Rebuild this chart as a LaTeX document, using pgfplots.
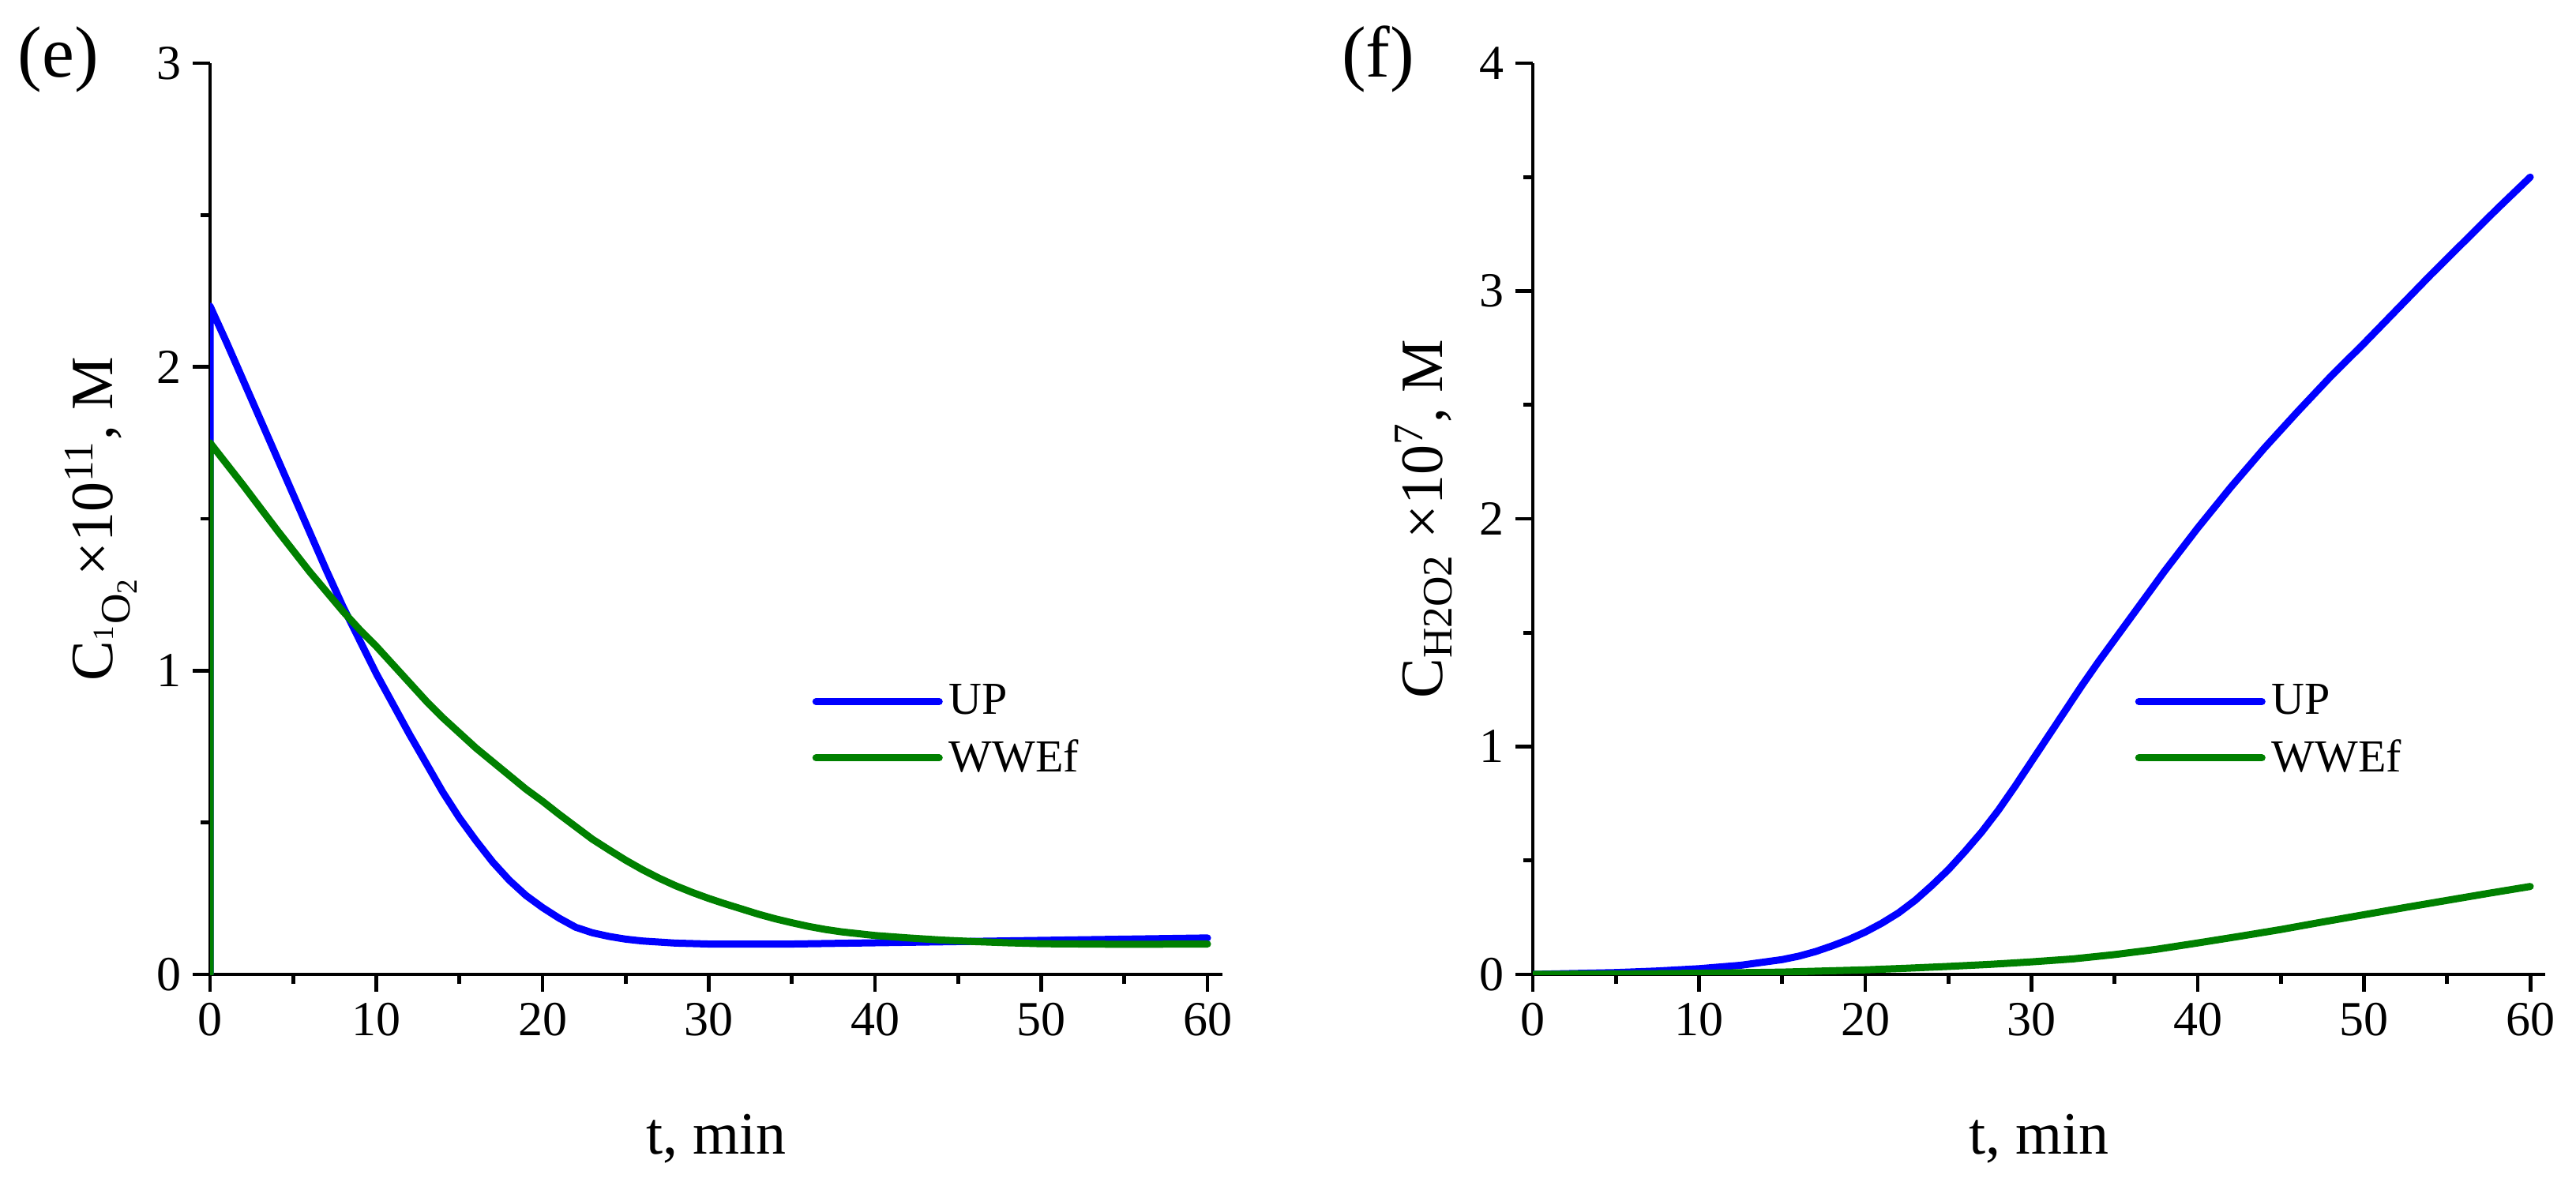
\documentclass[border=0pt]{standalone}
\usepackage{fontspec}
\setmainfont{Liberation Serif}
\usepackage{pgfplots}
\pgfplotsset{compat=1.18}

\definecolor{upblue}{RGB}{0,0,255}
\definecolor{wwgreen}{RGB}{0,128,0}

% 1 px of the reference = 0.25pt
\pgfplotsset{
  panel/.style={
    scale only axis,
    width=320.5pt, height=288.5pt,
    anchor=south west,
    xmin=0, xmax=60.9, ymin=0,
    axis x line*=bottom, axis y line*=left,
    axis line style={line width=1.1pt},
    xtick={0,10,...,60},
    minor x tick num=1, minor y tick num=1,
    tick align=outside,
    major tick length=5.5pt, minor tick length=3pt,
    tick style={black, line width=1.2pt},
    /pgf/number format/assume math mode=true,
    tick label style={font=\fontsize{15.5}{15.5}\selectfont},
    xlabel={t, min},
    xlabel style={font=\fontsize{19}{19}\selectfont, anchor=base,
      at={(axis description cs:0.5,0)}, yshift=-56.75pt},
    legend style={draw=none, fill=none, font=\fontsize{14.5}{14.5}\selectfont,
      anchor=north west, row sep=2.5pt},
    legend cell align=left,
    legend image code/.code={\draw[#1, line cap=round] (0pt,0pt) -- (39pt,0pt);},
  },
  curve/.style={line width=2.25pt, line join=round, line cap=round},
}

\begin{document}
\begin{tikzpicture}
\path[use as bounding box] (0pt,0pt) rectangle (815.5pt,375.25pt);

% (e)
\begin{axis}[panel, at={(66.5pt,66.75pt)},
  ymax=3, ytick={0,1,2,3},
  ylabel={C\textsubscript{\textsuperscript{1}O\textsubscript{2}}×10\textsuperscript{11}, M},
  ylabel style={font=\fontsize{19}{19}\selectfont, anchor=base,
    at={(axis description cs:-0.096,0.5)}},
  legend style={at={(axis description cs:0.585,0.333)}},
]
\addplot[curve, upblue] coordinates {
  (0,0) (0,2.2) (1,2.08) (2,1.955) (3,1.83) (4,1.705) (5,1.58) (6,1.455)
  (7,1.33) (8,1.21) (9,1.10) (10,0.99) (11,0.89) (12,0.79) (13,0.695)
  (14,0.60) (15,0.515) (16,0.44) (17,0.37) (18,0.31) (19,0.26) (20,0.22)
  (21,0.185) (22,0.155) (23,0.137) (24,0.125) (25,0.116) (26,0.11)
  (28,0.103) (30,0.1) (35,0.1) (40,0.104) (45,0.108) (50,0.112) (55,0.116) (60,0.12)
};
\addlegendentry{UP}
\addplot[curve, wwgreen] coordinates {
  (0,0) (0,1.75) (2,1.61) (4,1.465) (6,1.325) (8,1.195) (9,1.135) (10,1.08)
  (11,1.02) (12,0.96) (13,0.90) (14,0.845) (15,0.795) (16,0.745) (17,0.70)
  (18,0.655) (19,0.61) (20,0.57) (21,0.527) (22,0.486) (23,0.445) (24,0.41)
  (25,0.376) (26,0.345) (27,0.317) (28,0.292) (29,0.27) (30,0.25) (31,0.232)
  (32,0.215) (33,0.198) (34,0.183) (35,0.17) (36,0.158) (37,0.148) (38,0.14)
  (39,0.134) (40,0.128) (42,0.12) (44,0.113) (46,0.108) (48,0.104) (50,0.101)
  (55,0.099) (60,0.1)
};
\addlegendentry{WWEf}
\end{axis}

% (f)
\begin{axis}[panel, at={(485.25pt,66.75pt)},
  ymax=4, ytick={0,1,2,3,4},
  ylabel={C\textsubscript{H2O2} ×10\textsuperscript{7}, M},
  ylabel style={font=\fontsize{19}{19}\selectfont, anchor=base,
    at={(axis description cs:-0.089,0.5)}},
  legend style={at={(axis description cs:0.585,0.333)}},
]
\addplot[curve, upblue] coordinates {
  (0,0) (2.5,0.004) (5,0.008) (7.5,0.015) (10,0.025) (12.5,0.04) (14,0.055)
  (15,0.065) (16,0.08) (17,0.1) (18,0.125) (19,0.153) (20,0.186) (21,0.225)
  (22,0.27) (23,0.325) (24,0.39) (25,0.46) (26,0.54) (27,0.625) (28,0.72)
  (29,0.825) (30,0.935) (31,1.045) (32,1.155) (33,1.265) (34,1.37) (35,1.47)
  (36,1.57) (37,1.67) (38,1.77) (39,1.865) (40,1.96) (42,2.14) (44,2.31)
  (46,2.47) (48,2.625) (50,2.77) (52,2.92) (54,3.07) (56,3.215) (58,3.36) (60,3.50)
};
\addlegendentry{UP}
\addplot[curve, wwgreen] coordinates {
  (0,0) (5,0.002) (10,0.005) (15,0.01) (20,0.02) (22.5,0.027) (25,0.035)
  (27.5,0.044) (30,0.055) (32.5,0.068) (35,0.087) (37.5,0.11) (40,0.138)
  (42.5,0.167) (45,0.197) (47.5,0.23) (50,0.262) (52.5,0.294) (55,0.325)
  (57.5,0.356) (60,0.386)
};
\addlegendentry{WWEf}
\end{axis}

\node[anchor=base, font=\fontsize{23}{23}\selectfont] at (18.5pt,350.75pt) {(e)};
\node[anchor=base, font=\fontsize{23}{23}\selectfont] at (436.25pt,350.75pt) {(f)};
\end{tikzpicture}
\end{document}
